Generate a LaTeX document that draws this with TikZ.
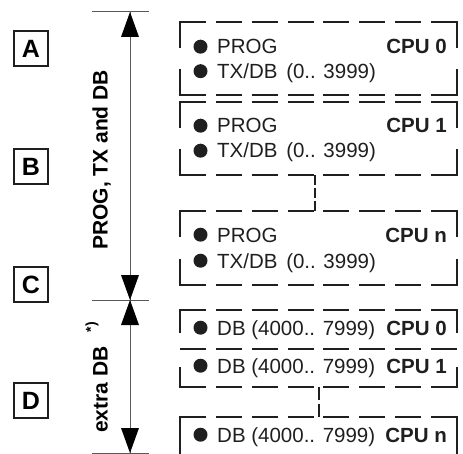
\documentclass[tikz,border=0pt]{standalone}
\usepackage{fontspec}
\setmainfont{Liberation Sans}
\usetikzlibrary{arrows.meta}
\definecolor{ink}{gray}{0.12}
\definecolor{dimc}{gray}{0.35}
\newcommand\txt{\fontsize{20.5bp}{22bp}\selectfont}
\newcommand\cpubox[2]{%
  \draw[dl] (180,#1) -- (457,#1);
  \draw[dl] (180,#2) -- (457,#2);
  \draw[bx] (180,#1+26) -- (180,#1) -- (206,#1);
  \draw[bx] (431,#1) -- (457,#1) -- (457,#1+26);
  \draw[bx] (180,#2-26) -- (180,#2) -- (206,#2);
  \draw[bx] (431,#2) -- (457,#2) -- (457,#2-26);}
\newcommand\brow[3]{% baseline y, name, text
  \fill[ink] (200.5,#1-7.3) circle (7bp);
  \node[txtnode] (#2) at (217,#1) {#3};}
\begin{document}
\begin{tikzpicture}[x=1bp,y=-1bp,
  bx/.style={line width=2.5bp, draw=ink, line join=miter},
  dl/.style={bx, dash pattern=on 26bp off 9.857bp},
  vc/.style={line width=2.5bp, draw=ink},
  lab/.style={draw=ink, line width=1.2bp, minimum width=34bp, minimum height=35bp, inner sep=0pt, font=\bfseries\fontsize{25bp}{25bp}\selectfont, text=black},
  dim/.style={line width=1bp, draw=dimc},
  txtnode/.style={anchor=base west, inner sep=0pt, font=\txt, text=ink},
  cpunode/.style={anchor=base east, inner sep=0pt, font=\txt\bfseries, text=ink},
  rot/.style={rotate=90, inner sep=0pt, font=\bfseries\fontsize{21bp}{21bp}\selectfont, text=black}]
\useasboundingbox (0,0) rectangle (463,454);
\clip (0,0) rectangle (463,454);
% letter boxes
\node[lab] (A) at (31,48.5) {A};
\node[lab] (B) at (31,166.5) {B};
\node[lab] (C) at (31,284.5) {C};
\node[lab] (D) at (31,400.5) {D};
% dimension lines
\coordinate (t0) at (130,12);
\coordinate (t1) at (130,300);
\coordinate (t2) at (130,453);
\draw[dim] (92,12) -- (149,12);
\draw[dim] (92,300) -- (149,300);
\draw[dim] (92,453) -- (149,453);
\draw[dim] (t0) -- (t1);
\draw[dim] (t1) -- (t2);
\fill[black] (t0) -- ++(-9,25) -- ++(18,0) -- cycle;
\fill[black] (t1) -- ++(-9,-25) -- ++(18,0) -- cycle;
\fill[black] (t1) -- ++(-9,25) -- ++(18,0) -- cycle;
\fill[black] (t2) -- ++(-9,-25) -- ++(18,0) -- cycle;
\node[rot, anchor=base] (l1) at (107.5,160) {PROG, TX and DB};
\node[rot, anchor=base west] (l2) at (107.5,433) {extra DB\hspace{14bp}\raisebox{12bp}{\fontsize{14bp}{14bp}\selectfont *)}};
% upper boxes
\cpubox{22}{95}
\cpubox{102}{175}
\cpubox{211}{285}
\brow{54}{p0}{PROG}
\brow{78.5}{x0}{TX/DB\hspace{3bp} (0.. 3999)}
\node[cpunode] (c0) at (447,54) {CPU 0};
\brow{133}{p1}{PROG}
\brow{158}{x1}{TX/DB\hspace{3bp} (0.. 3999)}
\node[cpunode] (c1) at (447,133) {CPU 1};
\brow{242}{p2}{PROG}
\brow{268}{x2}{TX/DB\hspace{3bp} (0.. 3999)}
\node[cpunode] (c2) at (447,242) {CPU n};
\coordinate (k1a) at (315,175);
\coordinate (k1b) at (315,211);
\draw[vc, dash pattern=on 10bp off 3bp] (k1a) -- (k1b);
% lower boxes
\draw[dl] (180,310) -- (457,310);
\draw[dl] (180,349) -- (457,349);
\draw[dl] (180,387) -- (457,387);
\draw[dl] (180,417) -- (457,417);
\draw[bx] (180,333) -- (180,310) -- (206,310);
\draw[bx] (431,310) -- (457,310) -- (457,333);
\draw[bx] (180,367) -- (180,387) -- (206,387);
\draw[bx] (431,387) -- (457,387) -- (457,367);
\draw[bx] (180,470) -- (180,417) -- (206,417);
\draw[bx] (431,417) -- (457,417) -- (457,470);
\brow{335}{d0}{DB (4000.. 7999)}
\node[cpunode] (e0) at (447,335) {CPU 0};
\brow{373}{d1}{DB (4000.. 7999)}
\node[cpunode] (e1) at (447,373) {CPU 1};
\brow{442}{d2}{DB (4000.. 7999)}
\node[cpunode] (e2) at (447,442) {CPU n};
\coordinate (k2a) at (319,387);
\coordinate (k2b) at (319,417);
\draw[vc, dash pattern=on 13bp off 4bp] (k2a) -- (k2b);
\end{tikzpicture}
\end{document}
